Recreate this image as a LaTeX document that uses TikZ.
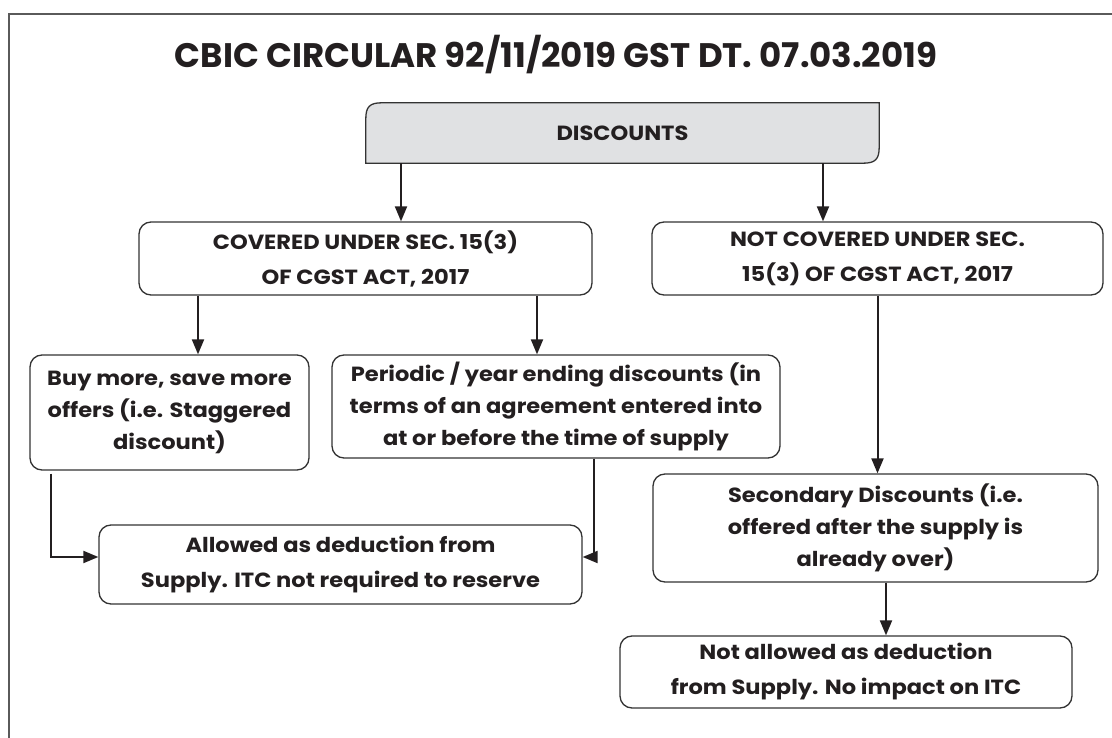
\documentclass[tikz,border=0pt]{standalone}
\usepackage{fontspec}
\setmainfont{Poppins}
\newfontfamily\boxfont{Poppins}[FakeStretch=1.1]
\usetikzlibrary{arrows.meta,backgrounds,calc}
\definecolor{ink}{HTML}{231F20}
\definecolor{boxline}{HTML}{333333}
\definecolor{discfill}{HTML}{E0E1E3}
\definecolor{framegray}{HTML}{5A5A5A}
\tikzset{
  boxnode/.style={draw=boxline, line width=1.3pt, rounded corners=12pt, inner sep=0pt,
    align=center, text=ink, font=\boxfont\bfseries\fontsize{20.5}{32}\selectfont},
  twoline/.style={font=\boxfont\bfseries\fontsize{20.5}{35}\selectfont},
  conn/.style={draw=ink, line width=2pt, -{Triangle[length=15pt,width=12pt]}},
  frameline/.style={draw=framegray, line width=1.6pt}
}
\begin{document}
\begin{tikzpicture}[x=1pt,y=-1pt]
\useasboundingbox (0,0) rectangle (1112,738);
% outer frame (top and left edges)
\coordinate (fa) at (9,738);
\coordinate (fb) at (9,14);
\coordinate (fc) at (1112,14);
\draw[frameline] (fa) -- (fb) -- (fc);

\node[text=ink, font=\bfseries\fontsize{34}{40}\selectfont] (title) at (556,55)
  {CBIC CIRCULAR 92/11/2019 GST DT. 07.03.2019};

\node[inner sep=0pt, minimum width=513pt, minimum height=60pt, text=ink,
  font=\boxfont\bfseries\fontsize{20.5}{32}\selectfont] (disc) at (622.5,133) {DISCOUNTS};
\begin{scope}[on background layer]
\draw[draw=boxline, line width=1.3pt, fill=discfill]
  (disc.south west) -- ($(disc.north west)+(0,16)$) .. controls ($(disc.north west)+(0,4)$) and ($(disc.north west)+(4,0)$) .. ($(disc.north west)+(16,0)$)
  -- (disc.north east) -- ($(disc.south east)+(0,-16)$) .. controls ($(disc.south east)+(0,-4)$) and ($(disc.south east)+(-4,0)$) .. ($(disc.south east)+(-16,0)$)
  -- cycle;
\end{scope}

\node[boxnode, twoline, minimum width=453pt, minimum height=73pt] (cov) at (365.5,258.5)
  {COVERED UNDER SEC. 15(3)\\OF CGST ACT, 2017};
\node[boxnode, twoline, minimum width=451pt, minimum height=73pt] (ncov) at (877.5,258.5)
  {NOT COVERED UNDER SEC.\\15(3) OF CGST ACT, 2017};
\node[boxnode, minimum width=279pt, minimum height=115pt] (buy) at (169.5,412.5)
  {Buy more, save more\\offers (i.e. Staggered\\discount)};
\node[boxnode, minimum width=448pt, minimum height=103pt] (per) at (556,406.5)
  {Periodic / year ending discounts (in\\terms of an agreement entered into\\at or before the time of supply};
\node[boxnode, twoline, minimum width=483pt, minimum height=79pt] (allow) at (340.5,564.5)
  {Allowed as deduction from\\Supply. ITC not required to reserve};
\node[boxnode, minimum width=445pt, minimum height=108pt] (sec) at (875.5,528)
  {Secondary Discounts (i.e.\\offered after the supply is\\already over)};
\node[boxnode, twoline, minimum width=452pt, minimum height=72pt] (nall) at (846,672)
  {Not allowed as deduction\\from Supply. No impact on ITC};

% connector guide coordinates
\coordinate (k1) at (401,0);
\coordinate (k2) at (823,0);
\coordinate (k3) at (198,0);
\coordinate (k4) at (537,0);
\coordinate (k5) at (51,0);
\coordinate (k6) at (594,0);
\coordinate (k7) at (886,0);
\coordinate (hy) at (0,557);

\draw[conn] (k1 |- disc.south) -- (k1 |- cov.north);
\draw[conn] (k2 |- disc.south) -- (k2 |- ncov.north);
\draw[conn] (k3 |- cov.south) -- (k3 |- buy.north);
\draw[conn] (k4 |- cov.south) -- (k4 |- per.north);
\draw[conn] ($(k5 |- buy.south)+(0,3)$) |- (allow.west |- hy);
\draw[conn] (k6 |- per.south) |- (allow.east |- hy);
\draw[conn] (ncov.south) -- (ncov.south |- sec.north);
\draw[conn] (k7 |- sec.south) -- (k7 |- nall.north);
\end{tikzpicture}
\end{document}
